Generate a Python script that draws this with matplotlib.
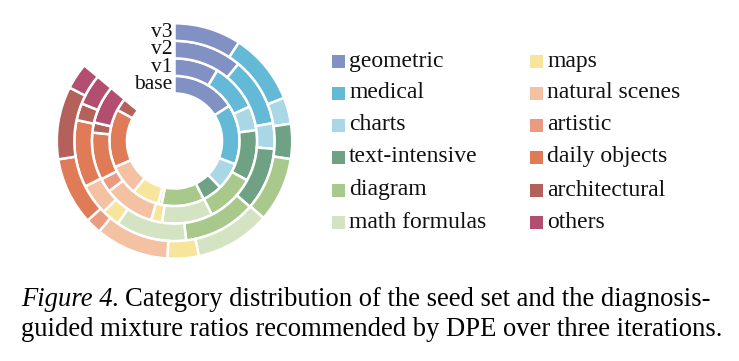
import matplotlib
matplotlib.use("Agg")
import matplotlib.pyplot as plt
from matplotlib.patches import Rectangle

categories = ["geometric", "medical", "charts", "text-intensive", "diagram",
              "math formulas", "maps", "natural scenes", "artistic",
              "daily objects", "architectural", "others"]
colors = ["#8191c4", "#63b9d6", "#a9d7e5", "#6fa284", "#a8c98b", "#d4e4c2",
          "#f7e59b", "#f5c1a3", "#eb9b81", "#e07b58", "#b4615b", "#b24f71"]

ring_labels = ["base", "v1", "v2", "v3"]
base = [18.5, 17.3, 7.9, 5.8, 12.3, 1.0, 7.8, 8.9, 0.0, 16.8, 3.7, 0.0]
v1 = [10.1, 11.0, 5.5, 11.6, 11.2, 11.5, 2.5, 11.6, 3.2, 10.8, 2.3, 8.7]
v2 = [12.8, 12.9, 4.8, 11.8, 13.6, 13.3, 3.4, 5.8, 0.0, 12.6, 3.2, 5.8]
v3 = [10.7, 11.4, 4.2, 5.6, 10.3, 12.0, 5.0, 11.7, 2.5, 10.8, 11.6, 4.2]
rings = [base, v1, v2, v3]

SPAN = 310.0 / 360.0
W = 739 / 100
H = 361 / 100
plt.rcParams['font.family'] = ['Liberation Serif', 'DejaVu Serif']

fig = plt.figure(figsize=(W, H), dpi=100)
cx, cy, R = 174.5, 141.0, 117.7
ax = fig.add_axes([(cx - R) / 739, (361 - cy - R) / 361, 2 * R / 739, 2 * R / 361])
width = 0.149
for i, vals in enumerate(rings):
    radius = 0.553 + i * width
    fr = [v / 100.0 * SPAN for v in vals]
    ax.pie(fr, radius=radius, colors=colors, startangle=90, counterclock=False,
           normalize=False,
           wedgeprops=dict(width=width, edgecolor="white", linewidth=1.8))
    ax.text(-0.02, radius - width / 2, ring_labels[i], ha="right", va="center",
            fontsize=15.5, color="#111111")
ax.set_xlim(-1, 1)
ax.set_ylim(-1, 1)
ax.set_aspect("equal")
ax.axis("off")

# legend
col_x = [332, 530]
row_y = [61, 93, 125, 157, 190, 222]
for k, (name, c) in enumerate(zip(categories, colors)):
    col, row = divmod(k, 6)
    x0 = col_x[col]
    y0 = row_y[row]
    fig.patches.append(Rectangle((x0 / 739, (361 - y0 - 6.5) / 361), 13 / 739, 13 / 361,
                                 transform=fig.transFigure, facecolor=c, edgecolor="none"))
    fig.text((x0 + 17) / 739, (361 - y0) / 361, name, ha="left", va="center",
             fontsize=17, color="#111111")

# caption
fig.canvas.draw()
r = fig.canvas.get_renderer()
t1 = fig.text(21 / 739, (361 - 306.5) / 361, "Figure 4.", fontstyle="italic",
              fontsize=19.2, ha="left", va="baseline")
bb = t1.get_window_extent(renderer=r)
fig.text((bb.x1 + 6) / 739, (361 - 306.5) / 361,
         "Category distribution of the seed set and the diagnosis-",
         fontsize=19.2, ha="left", va="baseline")
fig.text(21 / 739, (361 - 335.5) / 361,
         "guided mixture ratios recommended by DPE over three iterations.",
         fontsize=19.2, ha="left", va="baseline")

fig.savefig("out.png", dpi=100)
